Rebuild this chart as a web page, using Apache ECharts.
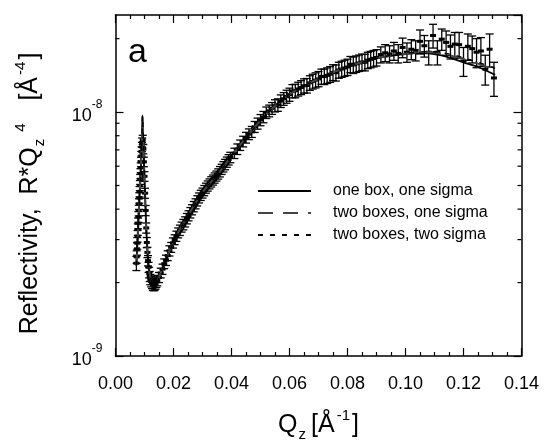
<!DOCTYPE html>
<html><head><meta charset="utf-8">
<script src="https://cdn.jsdelivr.net/npm/echarts@6/dist/echarts.min.js"></script>
<style>html,body{margin:0;padding:0;background:#fff}#c{width:546px;height:441px}</style>
</head><body><div id="c"></div>
<script>
// Values of R*Qz^4 are stored in units of 1e-9 A^-4
const xTickValues = [0, 0.02, 0.04, 0.06, 0.08, 0.10, 0.12, 0.14];
const yMajorTicks = [1, 10];            // 10^-9, 10^-8
const yMinorTicks = [2, 3, 4, 5, 6, 7, 8, 9, 20];
const seriesNames = ['one box, one sigma', 'two boxes, one sigma', 'two boxes, two sigma'];

// measured points: [Qz, R*Qz^4 (1e-9), error (1e-9)]
const measured = [
 [0.0072,2.40,0.16],[0.0073,2.55,0.15],[0.0074,2.75,0.16],[0.0075,2.90,0.16],[0.0076,3.10,0.17],
 [0.0077,3.30,0.18],[0.0078,3.50,0.18],[0.0079,3.72,0.19],[0.0080,3.95,0.20],[0.0081,4.20,0.21],
 [0.0082,4.45,0.22],[0.0083,4.72,0.23],[0.0084,5.00,0.24],[0.0085,5.30,0.25],[0.0086,5.60,0.26],
 [0.0087,5.92,0.27],[0.0088,6.25,0.28],[0.0089,6.60,0.30],[0.0090,6.90,0.30],[0.0091,7.20,0.32],
 [0.0092,7.50,0.33],
 [0.0094,7.70,0.33],[0.0096,7.05,0.31],[0.0098,6.25,0.28],[0.0100,5.45,0.25],[0.0102,4.65,0.22],
 [0.0104,3.95,0.19],[0.0106,3.35,0.16],[0.0108,2.92,0.14],[0.0110,2.66,0.13],[0.0112,2.46,0.12],
 [0.0114,2.31,0.11],[0.0116,2.20,0.11],[0.0118,2.12,0.10],[0.0120,2.06,0.10],[0.0123,2.02,0.10],
 [0.0126,1.99,0.10],[0.0129,1.96,0.10],[0.0132,1.95,0.10],[0.0135,1.96,0.10],[0.0138,1.98,0.10],
 [0.0141,2.01,0.10],
 [0.0144,2.04,0.10],[0.0150,2.10,0.10],[0.0156,2.19,0.10],[0.0162,2.27,0.11],[0.0168,2.39,0.11],
 [0.0174,2.47,0.12],[0.0180,2.58,0.12],[0.0186,2.70,0.13],[0.0192,2.79,0.13],[0.0198,2.91,0.14],
 [0.0204,3.00,0.14],[0.0210,3.10,0.15],[0.0216,3.20,0.15],[0.0222,3.28,0.16],[0.0228,3.38,0.16],
 [0.0234,3.46,0.17],[0.0240,3.55,0.17],[0.0246,3.66,0.18],[0.0252,3.76,0.18],[0.0258,3.87,0.19],
 [0.0264,3.98,0.19],[0.0270,4.10,0.20],[0.0276,4.21,0.20],[0.0282,4.33,0.21],[0.0288,4.45,0.21],
 [0.0294,4.56,0.22],[0.0300,4.66,0.22],[0.0306,4.77,0.23],[0.0312,4.88,0.23],[0.0318,4.98,0.24],
 [0.0324,5.08,0.24],[0.0330,5.18,0.25],[0.0336,5.27,0.25],[0.0342,5.37,0.26],[0.0348,5.47,0.26],
 [0.0354,5.58,0.27],[0.0360,5.70,0.28],[0.0366,5.83,0.28],[0.0372,5.97,0.29],[0.0378,6.10,0.30],
 [0.0384,6.24,0.30],[0.0390,6.38,0.31],[0.0396,6.52,0.32],
 [0.041,6.78,0.33],[0.042,7.05,0.35],[0.043,7.32,0.36],[0.044,7.58,0.38],[0.045,7.86,0.40],
 [0.046,8.12,0.41],[0.047,8.30,0.43],[0.048,8.70,0.45],[0.049,8.98,0.47],[0.050,9.28,0.49],
 [0.051,9.55,0.51],[0.052,9.95,0.54],[0.053,10.12,0.56],[0.054,10.36,0.58],[0.055,10.62,0.61],
 [0.056,10.70,0.63],[0.057,11.10,0.66],[0.058,11.34,0.68],[0.059,11.58,0.71],[0.060,11.80,0.73],
 [0.061,12.20,0.76],[0.062,12.22,0.78],[0.063,12.44,0.81],[0.064,12.62,0.83],[0.065,12.82,0.86],
 [0.066,12.85,0.88],[0.067,13.18,0.91],[0.068,13.36,0.93],[0.069,13.52,0.96],[0.070,13.68,0.98],
 [0.071,14.00,1.00],[0.072,13.98,1.02],[0.073,14.14,1.04],[0.074,14.30,1.06],[0.075,14.55,1.08],
 [0.076,14.50,1.10],[0.077,14.88,1.12],[0.078,15.02,1.14],[0.079,15.16,1.16],[0.080,15.30,1.18],
 [0.081,15.70,1.20],[0.082,15.60,1.21],[0.083,15.76,1.22],[0.084,15.90,1.23],[0.085,16.04,1.24],
 [0.086,16.00,1.25],[0.087,16.32,1.26],[0.088,16.46,1.27],[0.089,16.60,1.28],[0.090,16.74,1.29],
 [0.0915,17.2,1.3],[0.093,17.5,1.4],[0.0945,17.3,1.4],[0.096,17.8,1.5],[0.0975,17.4,1.5],
 [0.099,18.4,1.7],[0.1005,17.6,1.6],[0.102,18.1,1.7],[0.1035,17.9,1.7],[0.105,19.5,2.2],
 [0.1065,18.7,1.9],[0.108,17.6,2.0],[0.1095,20.6,2.3],[0.111,17.6,2.0],[0.1125,19.9,2.0],
 [0.114,19.3,2.2],[0.1155,18.6,2.1],[0.117,19.0,2.2],[0.1185,18.9,2.3],[0.120,16.2,2.2],
 [0.1215,18.6,2.3],[0.123,18.2,2.3],[0.1245,17.6,2.4],[0.126,17.8,2.4],[0.1275,15.0,2.1],
 [0.129,18.1,2.8],[0.1305,13.8,2.2]
];

const modelQ = [0.0072,0.0076,0.0080,0.0084,0.0088,0.0091,0.0093,0.0095,0.0098,0.0101,
 0.0105,0.0110,0.0115,0.0120,0.0128,0.0136,0.0145,0.016,0.018,0.020,
 0.0225,0.025,0.0275,0.030,0.0325,0.035,0.0375,0.040,0.0425,0.045,
 0.0475,0.050,0.055,0.060,0.065,0.070,0.075,0.080,0.085,0.090,
 0.095,0.100,0.104,0.108,0.112,0.116,0.120,0.125,0.1309];
const modelOneBox = [2.35,2.95,3.75,4.8,6.1,7.6,9.7,8.2,6.3,4.9,
 3.6,2.7,2.3,2.1,1.98,1.96,2.03,2.26,2.6,2.93,
 3.36,3.76,4.22,4.68,5.1,5.5,6.02,6.62,7.22,7.86,
 8.52,9.24,10.6,11.8,12.8,13.7,14.55,15.3,16.0,16.6,
 17.0,17.3,17.45,17.4,17.1,16.6,16.0,15.3,14.2];
const modelTwoBoxes = [2.35,2.95,3.75,4.8,6.1,7.6,9.6,8.2,6.3,4.9,
 3.6,2.7,2.3,2.1,1.98,1.96,2.03,2.26,2.6,2.93,
 3.36,3.76,4.22,4.68,5.1,5.5,6.02,6.62,7.22,7.86,
 8.52,9.24,10.6,11.8,12.8,13.7,14.55,15.3,16.0,16.6,
 17.05,17.35,17.55,17.6,17.4,17.0,16.5,15.8,14.9];
const modelTwoBoxesTwoSigma = [2.35,2.95,3.75,4.8,6.1,7.6,9.65,8.2,6.3,4.9,
 3.6,2.7,2.3,2.1,1.98,1.96,2.03,2.26,2.6,2.93,
 3.36,3.76,4.22,4.68,5.1,5.5,6.02,6.62,7.22,7.86,
 8.52,9.24,10.6,11.8,12.8,13.7,14.55,15.3,16.0,16.6,
 17.1,17.4,17.6,17.7,17.55,17.2,16.7,16.0,15.1];

const FONT = 'Liberation Sans, Arial, sans-serif';
const chart = echarts.init(document.getElementById('c'), null, {renderer: 'canvas'});

function pairs(q, v) { return q.map((x, i) => [x, v[i]]); }

const supRich = {
  a: {fontSize: 18, fontFamily: FONT, color: '#000', lineHeight: 26, verticalAlign: 'bottom'},
  b: {fontSize: 12, fontFamily: FONT, color: '#000', lineHeight: 26, verticalAlign: 'top'}
};

const nameRich = {
  n: {fontSize: 25, fontFamily: FONT, color: '#000', lineHeight: 34},
  sub: {fontSize: 15, fontFamily: FONT, color: '#000', lineHeight: 34, verticalAlign: 'bottom', padding: [0, 5, 0, 1]},
  sup: {fontSize: 15, fontFamily: FONT, color: '#000', lineHeight: 34, verticalAlign: 'top', padding: [0, 2, 0, 2]}
};

const axisLineStyle = {color: '#000', width: 1.5};
const tickStyle = {color: '#000', width: 1.2};

const option = {
  backgroundColor: '#fff',
  animation: false,
  grid: {left: 115.5, right: 24.5, top: 15, bottom: 85, containLabel: false, outerBoundsMode: 'none'},
  graphic: [{type: 'text', left: 128, top: 36, style: {text: 'a', font: '34px ' + FONT, fill: '#000'}}],
  legend: {
    orient: 'vertical', left: 252, top: 178, itemWidth: 53, itemHeight: 10, itemGap: 6,
    data: seriesNames,
    itemStyle: {opacity: 0},
    textStyle: {fontSize: 16, fontFamily: FONT, color: '#000', lineHeight: 14, padding: [0, 0, 0, 17]},
    inactiveColor: '#000'
  },
  xAxis: [{
    type: 'value', min: 0, max: 0.14, interval: 0.02, position: 'bottom',
    name: '{n|Q}{sub|z}{n|[Å}{sup|-1}{n|]}', nameLocation: 'middle', nameGap: 52, nameTextStyle: {rich: nameRich},
    axisLine: {show: true, onZero: false, lineStyle: axisLineStyle},
    axisTick: {show: true, inside: true, length: 8, lineStyle: tickStyle},
    minorTick: {show: true, splitNumber: 4, length: 4, lineStyle: tickStyle},
    axisLabel: {margin: 19, fontSize: 18, fontFamily: FONT, color: '#000', formatter: v => v.toFixed(2)},
    splitLine: {show: false}
  }, {
    type: 'value', min: 0, max: 0.14, interval: 0.02, position: 'top',
    axisLine: {show: true, onZero: false, lineStyle: axisLineStyle},
    axisTick: {show: true, inside: true, length: 8, lineStyle: tickStyle},
    minorTick: {show: true, splitNumber: 4, length: 4, lineStyle: tickStyle},
    axisLabel: {show: false}, splitLine: {show: false}
  }],
  yAxis: [{
    type: 'log', logBase: 10, min: 1, max: 25, position: 'left',
    name: '{n|Reflectivity,  R*Q}{sub|z}{sup|4}{n|   [Å}{sup|-4}{n|]}', nameLocation: 'middle', nameGap: 68, nameRotate: 90,
    nameTextStyle: {rich: nameRich, padding: [0, 16, 0, 0]},
    axisLine: {show: true, onZero: false, lineStyle: axisLineStyle},
    axisTick: {show: true, inside: true, length: 8, lineStyle: tickStyle},
    axisLabel: {
      margin: 13, showMaxLabel: false,
      formatter: v => {
        const e = Math.log10(v);
        if (Math.abs(e - Math.round(e)) > 1e-6) return '';
        return '{a|10}{b|' + (Math.round(e) - 9) + '}';
      },
      rich: supRich
    },
    splitLine: {show: false}
  }, {
    type: 'log', logBase: 10, min: 1, max: 25, position: 'right',
    axisLine: {show: true, onZero: false, lineStyle: axisLineStyle},
    axisTick: {show: true, inside: true, length: 8, lineStyle: tickStyle},
    axisLabel: {show: false}, splitLine: {show: false}
  }],
  series: [
    {
      type: 'custom', name: 'minorY', silent: true, xAxisIndex: 0, yAxisIndex: 0,
      data: yMinorTicks.map(v => [0, v]),
      encode: {x: 0, y: 1},
      renderItem: (params, api) => {
        const cs = params.coordSys;
        const p = api.coord([0, api.value(1)]);
        return {type: 'group', children: [
          {type: 'line', shape: {x1: cs.x, y1: p[1], x2: cs.x + 4, y2: p[1]}, style: {stroke: '#000', lineWidth: 1.2}},
          {type: 'line', shape: {x1: cs.x + cs.width - 4, y1: p[1], x2: cs.x + cs.width, y2: p[1]}, style: {stroke: '#000', lineWidth: 1.2}}
        ]};
      }
    },
    {
      type: 'custom', name: 'data', silent: true,
      data: measured.map(p => [p[0], p[1], p[1] - p[2], p[1] + p[2]]),
      encode: {x: 0, y: [1, 2, 3]},
      renderItem: (params, api) => {
        const x = api.value(0);
        const c = api.coord([x, api.value(1)]);
        const lo = api.coord([x, api.value(2)]);
        const hi = api.coord([x, api.value(3)]);
        const w = 4;
        const st = {stroke: '#000', lineWidth: 1.3};
        return {type: 'group', children: [
          {type: 'line', shape: {x1: c[0], y1: lo[1], x2: c[0], y2: hi[1]}, style: st},
          {type: 'line', shape: {x1: c[0] - w, y1: lo[1], x2: c[0] + w, y2: lo[1]}, style: st},
          {type: 'line', shape: {x1: c[0] - w, y1: hi[1], x2: c[0] + w, y2: hi[1]}, style: st},
          {type: 'rect', shape: {x: c[0] - 3, y: c[1] - 1.5, width: 6, height: 3}, style: {fill: '#000'}}
        ]};
      }
    },
    {
      type: 'line', name: seriesNames[0], data: pairs(modelQ, modelOneBox), symbol: 'none', smooth: 0.3,
      lineStyle: {color: '#000', width: 1.8, type: 'solid'}, itemStyle: {color: '#000'}
    },
    {
      type: 'line', name: seriesNames[1], data: pairs(modelQ, modelTwoBoxes), symbol: 'none', smooth: 0.3,
      lineStyle: {color: '#444', width: 2, type: [15, 10]}, itemStyle: {color: '#444'}
    },
    {
      type: 'line', name: seriesNames[2], data: pairs(modelQ, modelTwoBoxesTwoSigma), symbol: 'none', smooth: 0.3,
      lineStyle: {color: '#000', width: 1.3, type: [5, 7]}, itemStyle: {color: '#000'}
    }
  ]
};
chart.setOption(option);
</script>
</body></html>
